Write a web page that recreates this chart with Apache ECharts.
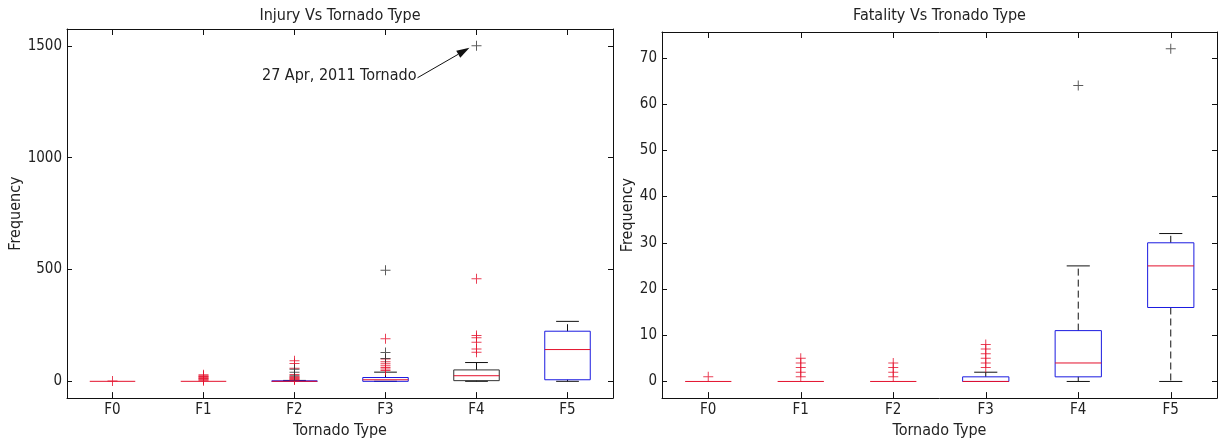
<!DOCTYPE html>
<html><head><meta charset="utf-8">
<script src="https://cdn.jsdelivr.net/npm/echarts@6/dist/echarts.min.js"></script>
<style>html,body{margin:0;padding:0;background:#fff;}#c{width:1221px;height:444px;}</style>
</head><body><div id="c"></div>
<script>
// ---------- DATA ----------
const categories = ['F0', 'F1', 'F2', 'F3', 'F4', 'F5'];
// each box: [lowerWhisker, q1, median, q3, upperWhisker]
const injuryBoxes = [
  [0, 0, 0, 0, 0],
  [0, 0, 0, 0, 0],
  [0, 0, 0, 2, 4],
  [0, 0, 7, 17, 41],
  [0, 3, 25, 51, 84],
  [0, 7, 142, 224, 268]
];
const injuryOutliersRed = [
  [1],
  [3, 7, 10, 13, 16, 19, 22, 25, 29],
  [6, 9, 12, 15, 18, 21, 30, 58, 80, 92],
  [48, 55, 62, 70, 78, 88, 100, 190],
  [130, 145, 175, 195, 205, 459],
  []
];
const injuryOutliersBlack = [
  [], [], [25, 40, 54], [102, 129, 497], [1500], []
];
const injuryTicks = [0, 500, 1000, 1500];

const fatalityBoxes = [
  [0, 0, 0, 0, 0],
  [0, 0, 0, 0, 0],
  [0, 0, 0, 0, 0],
  [0, 0, 0, 1, 2],
  [0, 1, 4, 11, 25],
  [0, 16, 25, 30, 32]
];
const fatalityOutliersRed = [
  [1], [1, 2, 3, 4, 5], [1, 2, 3, 4], [3, 4, 5, 6, 7, 8], [], []
];
const fatalityOutliersBlack = [
  [], [], [], [], [64], [72]
];
const fatalityTicks = [0, 10, 20, 30, 40, 50, 60, 70];

const annotationText = '27 Apr, 2011 Tornado';
const annotatedPoint = [4, 1500];

// ---------- STYLE ----------
const FONT = "'Liberation Sans Narrow','Arial Narrow','DejaVu Sans Condensed',sans-serif";
const TXT = '#222';
const BLUE = '#1a1ae0';
const RED = '#e3102c';
const injuryBoxColors = [BLUE, BLUE, BLUE, BLUE, '#333', BLUE];
const fatalityBoxColors = [BLUE, BLUE, BLUE, BLUE, BLUE, BLUE];
const PLUS = 'path://M4.5,0H5.5V4.5H10V5.5H5.5V10H4.5V5.5H0V4.5H4.5Z';

function flatten(groups) {
  const out = [];
  groups.forEach((vals, i) => vals.forEach(v => out.push([i, v])));
  return out;
}

function boxRenderer(boxColors) {
  return function (params, api) {
    const i = api.value(0);
    const lo = api.value(1), q1 = api.value(2), med = api.value(3), q3 = api.value(4), hi = api.value(5);
    const unit = api.size([1, 0])[0];
    const bw = unit * 0.5, cw = unit * 0.25;
    const x = api.coord([i, 0])[0];
    const Y = v => api.coord([i, v])[1];
    return {
      type: 'group',
      children: [
        { type: 'line', invisible: !(hi > q3), shape: { x1: x, y1: Y(q3), x2: x, y2: Y(hi) },
          style: { stroke: '#111', lineWidth: 1, lineDash: [7, 4] } },
        { type: 'line', invisible: !(lo < q1), shape: { x1: x, y1: Y(q1), x2: x, y2: Y(lo) },
          style: { stroke: '#111', lineWidth: 1, lineDash: [7, 4] } },
        { type: 'line', invisible: hi === med, shape: { x1: x - cw / 2, y1: Y(hi), x2: x + cw / 2, y2: Y(hi) },
          style: { stroke: '#111', lineWidth: 1 } },
        { type: 'line', invisible: lo === med, shape: { x1: x - cw / 2, y1: Y(lo), x2: x + cw / 2, y2: Y(lo) },
          style: { stroke: '#111', lineWidth: 1 } },
        { type: 'rect', invisible: !(q3 > q1), shape: { x: x - bw / 2, y: Y(q3), width: bw, height: Y(q1) - Y(q3) },
          style: { stroke: boxColors[i], lineWidth: 1, fill: null } },
        { type: 'line', shape: { x1: x - bw / 2, y1: Y(med), x2: x + bw / 2, y2: Y(med) },
          style: { stroke: RED, lineWidth: 1 } }
      ]
    };
  };
}

const gridL = { left: 67, top: 29, width: 546, height: 378 };
const gridR = { left: 662, top: 32, width: 555, height: 373 };

function xAxes(gi, title, titleGap) {
  const common = {
    gridIndex: gi, type: 'category', data: categories, boundaryGap: true,
    axisLine: { show: true, onZero: false, lineStyle: { color: '#111', width: 1 } },
    axisTick: { show: true, inside: true, alignWithLabel: true, length: 6, lineStyle: { color: '#111' } },
    splitLine: { show: false }
  };
  return [
    Object.assign({}, common, {
      position: 'bottom',
      axisLabel: { show: true, margin: 5, fontSize: 15, color: TXT, fontFamily: FONT },
      name: 'Tornado Type', nameLocation: 'middle', nameGap: 22,
      nameTextStyle: { fontSize: 16, color: TXT, fontFamily: FONT }
    }),
    Object.assign({}, common, {
      position: 'top',
      axisLabel: { show: false },
      name: title, nameLocation: 'middle', nameGap: titleGap,
      nameTextStyle: { fontSize: 16, color: TXT, fontFamily: FONT }
    })
  ];
}
function yAxes(gi, min, max, ticks, nameGap) {
  const common = {
    gridIndex: gi, type: 'value', min: min, max: max,
    axisLine: { show: true, lineStyle: { color: '#111', width: 1 } },
    axisTick: { show: true, inside: true, length: 5, customValues: ticks, lineStyle: { color: '#111' } },
    splitLine: { show: false }
  };
  return [
    Object.assign({}, common, {
      position: 'left',
      axisLabel: { show: true, margin: 5, fontSize: 15, color: TXT, fontFamily: FONT, customValues: ticks,
                   formatter: v => String(v) },
      name: 'Frequency', nameLocation: 'middle', nameGap: nameGap, nameRotate: 90,
      nameTextStyle: { fontSize: 16, color: TXT, fontFamily: FONT }
    }),
    Object.assign({}, common, { position: 'right', axisLabel: { show: false } })
  ];
}

const chart = echarts.init(document.getElementById('c'), null, { renderer: 'canvas' });
chart.setOption({
  animation: false,
  backgroundColor: '#fff',
  grid: [gridL, gridR],
  xAxis: xAxes(0, 'Injury Vs Tornado Type', 5).concat(xAxes(1, 'Fatality Vs Tronado Type', 8)),
  yAxis: yAxes(0, -75, 1575, injuryTicks, 35).concat(yAxes(1, -3.6, 75.6, fatalityTicks, 26)),
  series: [
    { type: 'custom', xAxisIndex: 0, yAxisIndex: 0, renderItem: boxRenderer(injuryBoxColors),
      encode: { x: 0, y: [1, 2, 3, 4, 5] }, data: injuryBoxes.map((b, i) => [i].concat(b)) },
    { type: 'scatter', xAxisIndex: 0, yAxisIndex: 0, symbol: PLUS, symbolSize: 10,
      itemStyle: { color: RED }, data: flatten(injuryOutliersRed) },
    { type: 'scatter', xAxisIndex: 0, yAxisIndex: 0, symbol: PLUS, symbolSize: 10,
      itemStyle: { color: '#333' }, data: flatten(injuryOutliersBlack) },
    { type: 'custom', xAxisIndex: 2, yAxisIndex: 2, renderItem: boxRenderer(fatalityBoxColors),
      encode: { x: 0, y: [1, 2, 3, 4, 5] }, data: fatalityBoxes.map((b, i) => [i].concat(b)) },
    { type: 'scatter', xAxisIndex: 2, yAxisIndex: 2, symbol: PLUS, symbolSize: 10,
      itemStyle: { color: RED }, data: flatten(fatalityOutliersRed) },
    { type: 'scatter', xAxisIndex: 2, yAxisIndex: 2, symbol: PLUS, symbolSize: 10,
      itemStyle: { color: '#333' }, data: flatten(fatalityOutliersBlack) }
  ]
});

// annotation arrow + text, anchored to the annotated data point (added straight to the zrender layer)
const p = chart.convertToPixel({ xAxisIndex: 0, yAxisIndex: 0 }, annotatedPoint);
const head = [p[0] - 7, p[1] + 2];
const tail = [p[0] - 59, p[1] + 32];
const dx = head[0] - tail[0], dy = head[1] - tail[1];
const len = Math.sqrt(dx * dx + dy * dy);
const ux = dx / len, uy = dy / len;
const aL = 13, aW = 4;
const base = [head[0] - ux * aL, head[1] - uy * aL];
const zr = chart.getZr();
const G = echarts.graphic;
zr.add(new G.Line({ shape: { x1: tail[0], y1: tail[1], x2: base[0], y2: base[1] }, style: { stroke: '#111', lineWidth: 1 }, z: 100 }));
zr.add(new G.Polygon({ shape: { points: [head, [base[0] - uy * aW, base[1] + ux * aW], [base[0] + uy * aW, base[1] - ux * aW]] }, style: { fill: '#111' }, z: 100 }));
zr.add(new G.Text({ x: tail[0] - 1, y: tail[1] - 2, style: { text: annotationText, align: 'right', verticalAlign: 'middle', fill: TXT, font: "16px " + FONT }, z: 100 }));
</script>
</body></html>
